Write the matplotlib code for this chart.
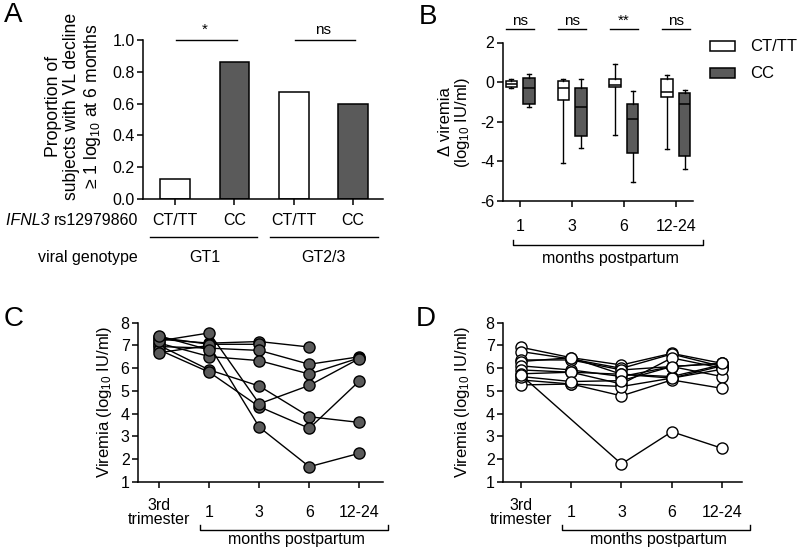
import numpy as np
import matplotlib
matplotlib.use('Agg')
import matplotlib.pyplot as plt
from matplotlib.patches import Rectangle

plt.rcParams['font.family'] = ['Liberation Sans', 'DejaVu Sans']
plt.rcParams['mathtext.fontset'] = 'custom'
plt.rcParams['mathtext.rm'] = 'Liberation Sans'
plt.rcParams['mathtext.it'] = 'Liberation Sans:italic'
plt.rcParams['mathtext.default'] = 'regular'
plt.rcParams['font.size'] = 12
plt.rcParams['axes.linewidth'] = 1.1

DARK = '#5a5a5a'

# panel A - proportion with VL decline
bar_labels = ['CT/TT', 'CC', 'CT/TT', 'CC']
bar_genotypes = ['GT1', 'GT2/3']
bar_values = [0.125, 0.86, 0.67, 0.60]
bar_colors = ['white', DARK, 'white', DARK]
bar_sig = ['*', 'ns']

# panel B - delta viremia boxes (whisker low, q1, median, q3, whisker high)
box_months = ['1', '3', '6', '12-24']
box_groups = ['CT/TT', 'CC']
ct_low = [-0.28, -4.1, -2.65, -3.4]
ct_q1 = [-0.25, -0.9, -0.25, -0.76]
ct_med = [-0.1, -0.3, -0.15, -0.5]
ct_q3 = [0.05, 0.06, 0.15, 0.15]
ct_high = [0.17, 0.15, 0.9, 0.36]
cc_low = [-1.25, -3.3, -5.05, -4.4]
cc_q1 = [-1.12, -2.7, -3.6, -3.75]
cc_med = [-0.32, -1.25, -1.85, -1.1]
cc_q3 = [0.2, -0.32, -1.1, -0.56]
cc_high = [0.4, 0.15, -0.45, -0.4]
box_sig = ['ns', 'ns', '**', 'ns']

# panels C, D - viremia per subject
time_labels = ['3rd\ntrimester', '1', '3', '6', '12-24']
nan = np.nan
cc_subjects = [
    [7.27, 7.10, 7.17, 6.93, nan],
    [7.35, 7.05, 7.05, nan, nan],
    [6.95, 6.88, 6.78, 6.17, 6.50],
    [7.10, 6.51, 6.33, 5.74, 6.45],
    [7.00, 5.92, 5.21, 3.86, 3.61],
    [6.80, 5.82, 4.30, 3.35, 5.43],
    [7.20, 7.55, 4.43, 5.24, 6.42],
    [6.68, 7.00, 3.40, 1.66, 2.25],
    [7.42, 6.80, nan, nan, nan],
]
ct_subjects = [
    [6.92, 6.46, 6.14, 6.65, 6.21],
    [6.73, 6.40, 5.99, 6.62, 6.07],
    [6.36, 6.36, 5.92, 6.07, 6.21],
    [6.29, 6.46, 5.73, 5.63, 6.15],
    [6.10, 5.92, 5.63, 6.07, 5.63],
    [5.92, 5.82, 5.73, 5.56, 6.10],
    [5.75, 5.82, 5.30, 6.45, 6.00],
    [5.48, 5.30, 4.78, 5.48, 5.11],
    [5.26, 5.30, 5.19, 5.56, 5.95],
    [5.63, 5.41, 5.45, 6.07, 6.21],
    [5.70, nan, 1.78, 3.20, 2.47],
]

W, H = 802, 550
fig = plt.figure(figsize=(W / 100, H / 100), dpi=100)


def add_ax(l, t, r, b):
    return fig.add_axes([l / W, 1 - b / H, (r - l) / W, (b - t) / H])


def style(ax, xpad, ypad=2):
    ax.spines['top'].set_visible(False)
    ax.spines['right'].set_visible(False)
    ax.tick_params(direction='out', length=4.3, width=1.1, labelsize=11.5)
    ax.tick_params(axis='x', pad=xpad)
    ax.tick_params(axis='y', pad=ypad)


# ---------------- A
axA = add_ax(143.3, 40, 383.3, 199)
xA = np.arange(len(bar_values))
axA.bar(xA, bar_values, width=0.5, color=bar_colors, edgecolor='black', linewidth=1.1)
axA.set_xlim(-0.534, 3.51)
axA.set_ylim(0, 1.0)
axA.set_yticks([0, 0.2, 0.4, 0.6, 0.8, 1.0], ['0.0', '0.2', '0.4', '0.6', '0.8', '1.0'])
axA.set_xticks(xA, bar_labels, va='center')
style(axA, 11.5)
tA = axA.get_xaxis_transform()
for i, (g, s) in enumerate(zip(bar_genotypes, bar_sig)):
    x0, x1 = 2 * i, 2 * i + 1
    axA.plot([x0 - 0.42 + 0.02 * i, x1 + 0.38 + 0.04 * i], [-0.237, -0.237], color='black', lw=1,
             transform=tA, clip_on=False)
    axA.text((x0 + x1) / 2, -0.371, g, transform=tA, ha='center', va='center', fontsize=11.5)
    axA.plot([x0 + 0.02, x1 + 0.04], [1.0, 1.0], color='black', lw=1, clip_on=False)
    axA.text((x0 + x1) / 2, 1.065, s, ha='center', va='center', fontsize=11)
snp = axA.text(-0.62, -0.138, 'rs12979860', transform=tA, ha='right', va='center', fontsize=11.5)
axA.annotate('IFNL3 ', xy=(0, 0.5), xycoords=snp, ha='right', va='center', fontsize=11.5,
             style='italic')
axA.text(-0.62, -0.371, 'viral genotype', transform=tA, ha='right', va='center', fontsize=11.5)
fig.text(74 / W, 1 - 106 / H, 'Proportion of\nsubjects with VL decline\n\u2265 1 log$_{10}$ at 6 months',
         rotation=90, ha='center', va='center', multialignment='center', fontsize=12.7, linespacing=1.12)

# ---------------- B
axB = add_ax(503, 42.5, 693, 201)
xB = np.arange(len(box_months))
ct_stats = [dict(whislo=a, q1=b, med=c, q3=d, whishi=e, fliers=[])
            for a, b, c, d, e in zip(ct_low, ct_q1, ct_med, ct_q3, ct_high)]
cc_stats = [dict(whislo=a, q1=b, med=c, q3=d, whishi=e, fliers=[])
            for a, b, c, d, e in zip(cc_low, cc_q1, cc_med, cc_q3, cc_high)]
for stats, off, col in [(ct_stats, -0.17, 'white'), (cc_stats, 0.17, DARK)]:
    axB.bxp(stats, positions=xB + off, widths=0.22, patch_artist=True, showfliers=False,
            capwidths=0.08,
            boxprops=dict(facecolor=col, edgecolor='black', linewidth=1.1),
            medianprops=dict(color='black', linewidth=1.1),
            whiskerprops=dict(color='black', linewidth=1),
            capprops=dict(color='black', linewidth=1))
axB.set_xlim(-0.33, 3.33)
axB.set_ylim(-6, 2)
axB.set_yticks([2, 0, -2, -4, -6], ['2', '0', '-2', '-4', '-6'])
axB.set_xticks(xB, box_months, va='center')
style(axB, 14.4)
tB = axB.get_xaxis_transform()
for i, s in enumerate(box_sig):
    axB.plot([i - 0.27, i + 0.27], [1.085, 1.085], color='black', lw=1, transform=tB, clip_on=False)
    axB.text(i, 1.135, s, transform=tB, ha='center', va='center', fontsize=11)
axB.plot([-0.13, -0.13, 3.52, 3.52], [-0.246, -0.278, -0.278, -0.246], color='black', lw=1,
         transform=tB, clip_on=False)
axB.text(1.73, -0.36, 'months postpartum', transform=tB, ha='center', va='center', fontsize=11.5)
fig.text(455 / W, 1 - 122 / H, '\u0394 viremia\n(log$_{10}$ IU/ml)', rotation=90, ha='center',
         va='center', multialignment='center', fontsize=12, linespacing=1.05)
for j, (g, col) in enumerate(zip(box_groups, ['white', DARK])):
    y0 = 0.946 - j * 0.17
    axB.add_patch(Rectangle((1.089, y0), 0.132, 0.062, transform=axB.transAxes, facecolor=col,
                            edgecolor='black', lw=1.1, clip_on=False))
    axB.text(1.3, y0 + 0.031, g, transform=axB.transAxes, ha='left', va='center', fontsize=12)


# ---------------- C, D
def viremia_panel(ax, subjects, face, brx, txt_x, label_x):
    xs = np.arange(len(time_labels))
    for row in subjects:
        v = np.array(row, dtype=float)
        m = ~np.isnan(v)
        ax.plot(xs[m], v[m], '-o', color='black', lw=1, ms=8, mfc=face, mec='black', mew=1)
    ax.set_ylim(1, 8)
    ax.set_yticks(range(1, 9))
    ax.set_xticks(xs, time_labels, va='center')
    ax.get_xticklabels()[0].set_linespacing(0.95)
    style(ax, 18)
    t = ax.get_xaxis_transform()
    ax.plot([brx[0], brx[0], brx[1], brx[1]], [-0.272, -0.304, -0.304, -0.272], color='black', lw=1,
            transform=t, clip_on=False)
    ax.text(txt_x, -0.365, 'months postpartum', transform=t, ha='center', va='center', fontsize=11.5)
    fig.text(label_x / W, 1 - 402 / H, 'Viremia (log$_{10}$ IU/ml)', rotation=90, ha='center',
             va='center', fontsize=12)


axC = add_ax(138.3, 322.7, 383.3, 481.7)
viremia_panel(axC, cc_subjects, DARK, (0.81, 4.58), 2.74, 104)
axC.set_xlim(-0.42, 4.48)

axD = add_ax(503.3, 322.7, 741.7, 481.7)
viremia_panel(axD, ct_subjects, 'white', (0.82, 4.56), 2.73, 462)
axD.set_xlim(-0.35, 4.39)

for lab, x, y in [('A', 13, 15), ('B', 428, 17), ('C', 14, 319), ('D', 426, 319)]:
    fig.text(x / W, 1 - y / H, lab, ha='center', va='center', fontsize=20)

fig.savefig('out.png', dpi=100)
